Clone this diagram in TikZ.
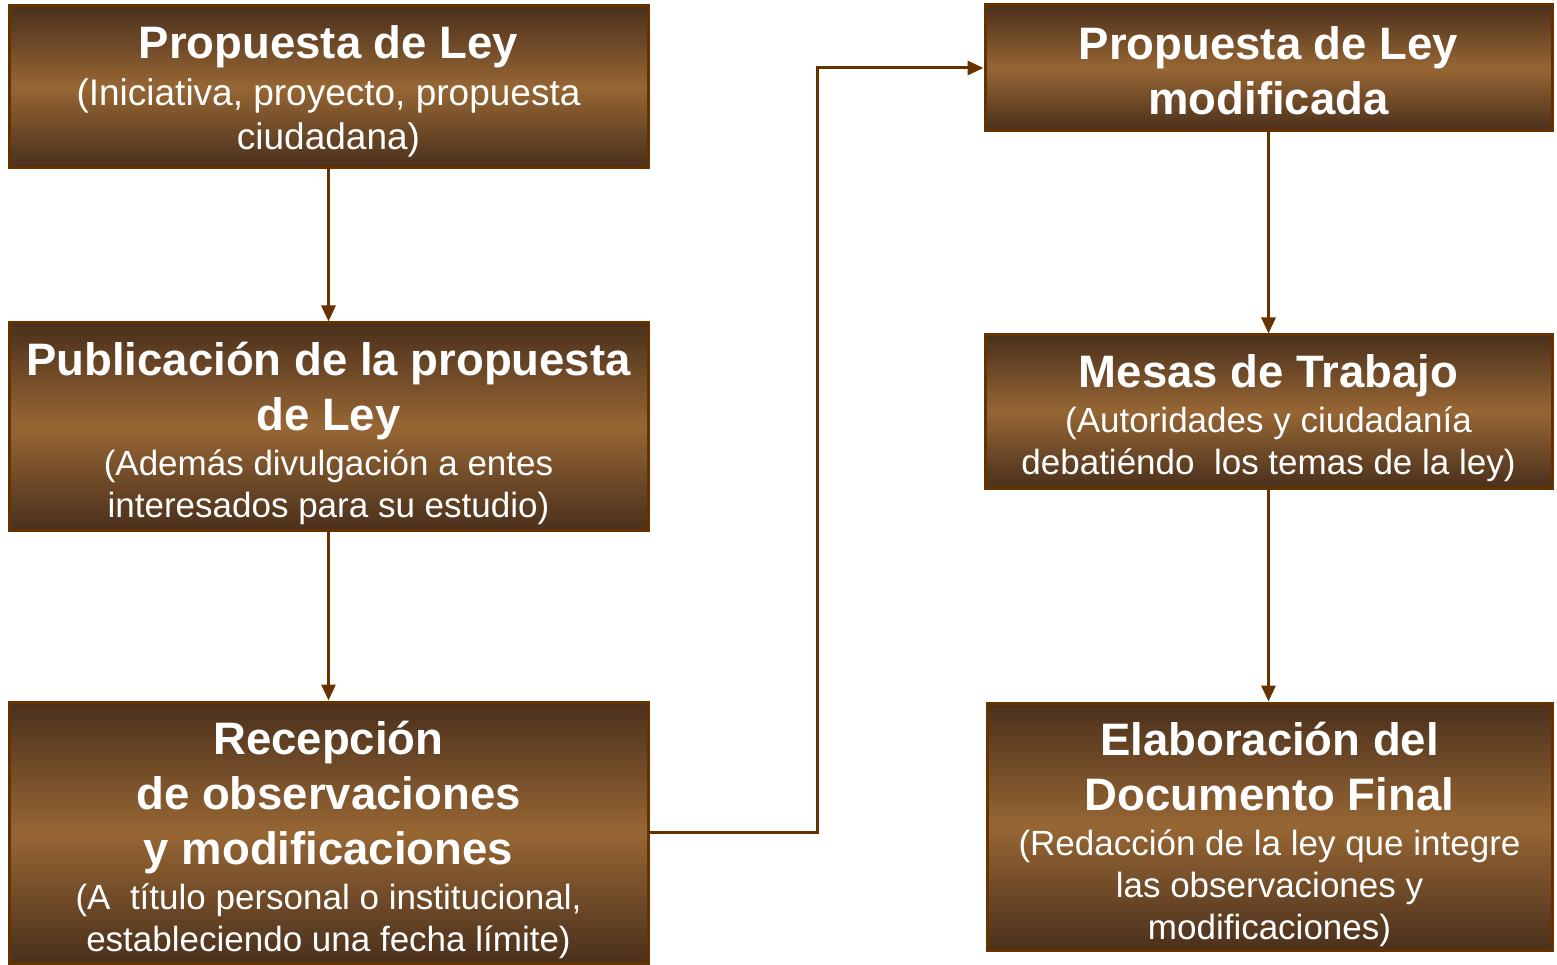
\documentclass[tikz,border=0pt]{standalone}
\usepackage{fontspec}
\setmainfont{Liberation Sans}
\usetikzlibrary{arrows.meta}

\definecolor{cafe}{HTML}{663300}
\definecolor{cafeosc}{HTML}{4A301C}
\definecolor{cafeclaro}{HTML}{976634}

\newcommand{\tit}{\fontsize{45.5}{55}\selectfont\bfseries}
\newcommand{\sub}{\fontsize{35}{42}\selectfont\mdseries}
\newcommand{\subg}{\fontsize{37}{42}\selectfont\mdseries}

\begin{document}
\begin{tikzpicture}[x=1pt,y=-1pt]
\tikzset{every node/.style={inner sep=0pt},
  paso/.style={rectangle,draw=cafe,line width=3pt,
    top color=cafeosc,bottom color=cafeosc,middle color=cafeclaro},
  texto/.style={text=white,align=center,
    node font={\fontsize{35}{42}\selectfont\lineskiplimit=-500pt}},
  flecha/.style={draw=cafe,line width=3pt,-{Triangle[width=14pt,length=16pt]}}}
\useasboundingbox (0,0) rectangle (1557,965);
% cajas
\node[paso,minimum width=639pt,minimum height=162pt] (prop) at (328.5,87) {};
\node[paso,minimum width=639pt,minimum height=207pt] (publ) at (328.5,426.5) {};
\node[paso,minimum width=639pt,minimum height=261pt] (recep) at (328.5,832.5) {};
\node[paso,minimum width=567pt,minimum height=126pt] (propmod) at (1268.5,68) {};
\node[paso,minimum width=567pt,minimum height=153pt] (mesas) at (1268.5,411.5) {};
\node[paso,minimum width=565pt,minimum height=247pt] (elab) at (1269.5,826.5) {};
% textos
\node[texto,yshift=-4pt] (prop-t) at (prop)
  {\tit Propuesta de Ley\\[5pt] \subg (Iniciativa, proyecto, propuesta\\[2pt] \subg ciudadana)};
\node[texto,yshift=-7pt] (publ-t) at (publ)
  {\tit Publicación de la propuesta\\[13pt] \tit de Ley\\[3pt] \sub (Además divulgación a entes\\ \sub interesados para su estudio)};
\node[texto,yshift=-7pt] (recep-t) at (recep)
  {\tit Recepción\\[13pt] \tit de observaciones\\[13pt] \tit y modificaciones\\[3pt] \sub (A\ \ título personal o institucional,\\ \sub estableciendo una fecha límite)};
\node[texto,yshift=-3pt] (propmod-t) at (propmod)
  {\tit Propuesta de Ley\\[13pt] \tit modificada};
\node[texto,yshift=-7pt] (mesas-t) at (mesas)
  {\tit Mesas de Trabajo\\[3pt] \sub (Autoridades y ciudadanía\\ \sub debatiéndo\ \ los temas de la ley)};
\node[texto,yshift=-8pt] (elab-t) at (elab)
  {\tit Elaboración del\\[13pt] \tit Documento Final\\[3pt] \sub (Redacción de la ley que integre\\ \sub las observaciones y\\ \sub modificaciones)};
% conectores
\draw[flecha] (prop) -- (publ);
\draw[flecha] (publ) -- (recep);
\draw[flecha] (recep.east) -- ++(168,0) |- (propmod.west);
\draw[flecha] (propmod) -- (mesas);
\draw[flecha] (mesas) -- (mesas|-elab.north);
\end{tikzpicture}
\end{document}
